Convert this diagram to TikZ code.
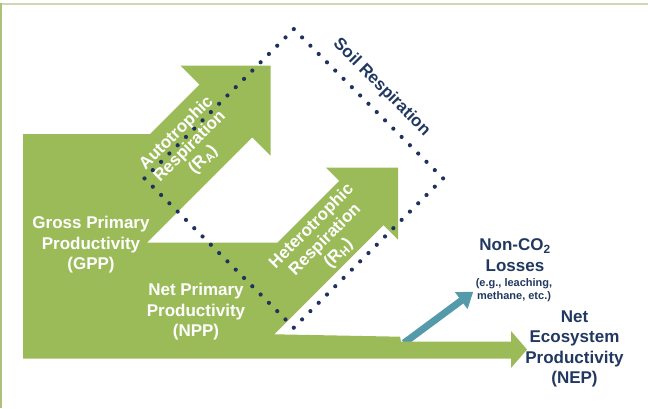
\documentclass[tikz,border=0pt]{standalone}
\usepackage{fontspec}
\setmainfont{Liberation Sans}
\usetikzlibrary{arrows.meta}
\definecolor{leaf}{RGB}{155,187,89}
\definecolor{ink}{RGB}{33,56,96}
\definecolor{dotblue}{RGB}{30,50,92}
\definecolor{losscol}{RGB}{84,154,170}
\definecolor{framegreen}{RGB}{172,194,122}
\definecolor{framelight}{RGB}{206,216,180}
\begin{document}
\begin{tikzpicture}[x=1pt,y=-1pt,
  flow/.style={fill=leaf},
  bigtext/.style={font=\bfseries\fontsize{17}{20.5}\selectfont, align=center, inner sep=0pt},
  slanttext/.style={font=\bfseries\fontsize{17}{19}\selectfont, align=center, inner sep=0pt, text=white},
  whitetext/.style={bigtext, text=white},
  inktext/.style={bigtext, text=ink},
  smalltext/.style={font=\bfseries\fontsize{11}{13.5}\selectfont, align=center, inner sep=0pt, text=ink},
  soilline/.style={draw=dotblue, line width=4.2pt, line cap=round, dash pattern=on 0pt off 11.73pt}]

\useasboundingbox (0,0) rectangle (648,408);
\draw [framelight, line width=2pt] (0,3.5) -- (648,3.5);
\draw [framegreen, line width=1.5pt] (0.75,3) -- (0.75,408);

\coordinate (losstail) at (404,343);
\coordinate (losstip) at (473.3,291.7);
\draw [losscol, line width=7pt, -{Triangle[length=15pt,width=20pt]}] (losstail) -- (losstip);

\fill [flow] (23,358.7) -- (23,134) -- (150,134) -- (199.5,84.5) -- (180.7,65.7) -- (270.7,65.7) -- (270.7,155.7) -- (252.25,137.25) -- (146.9,242.6) -- (277.4,242.6) -- (339.25,180.75) -- (326,167.5) -- (398,167.5) -- (398,239.5) -- (383.5,225) -- (274.2,334.3) -- (400,336.7) -- (401,341.7) -- (511,341.7) -- (511,331) -- (527,349.5) -- (511,368) -- (511,358.7) -- cycle;

\node [whitetext] (gpp) at (91,245) {Gross Primary\\Productivity\\(GPP)};
\node [whitetext] (npp) at (196,312) {Net Primary\\Productivity\\(NPP)};
\node [slanttext, rotate=45] (ra) at (190,146.7) {Autotrophic\\Respiration\\(R\textsubscript{A})};
\node [slanttext, rotate=45] (rh) at (325.3,240) {Heterotrophic\\Respiration\\(R\textsubscript{H})};
\node [inktext, rotate=-45] (soil) at (381.5,87.5) {Soil Respiration};
\node [inktext] (nonco) at (515,255) {Non-CO\textsubscript{2}\\Losses};
\node [smalltext] (eg) at (514,290) {(e.g., leaching,\\methane, etc.)};
\node [inktext] (nep) at (574.5,349) {Net\\Ecosystem\\Productivity\\(NEP)};

\draw [soilline] (293.8,29.1) -- (443.1,178.4) -- (293.8,327.7) -- (144.5,178.4) -- cycle;
\end{tikzpicture}
\end{document}
